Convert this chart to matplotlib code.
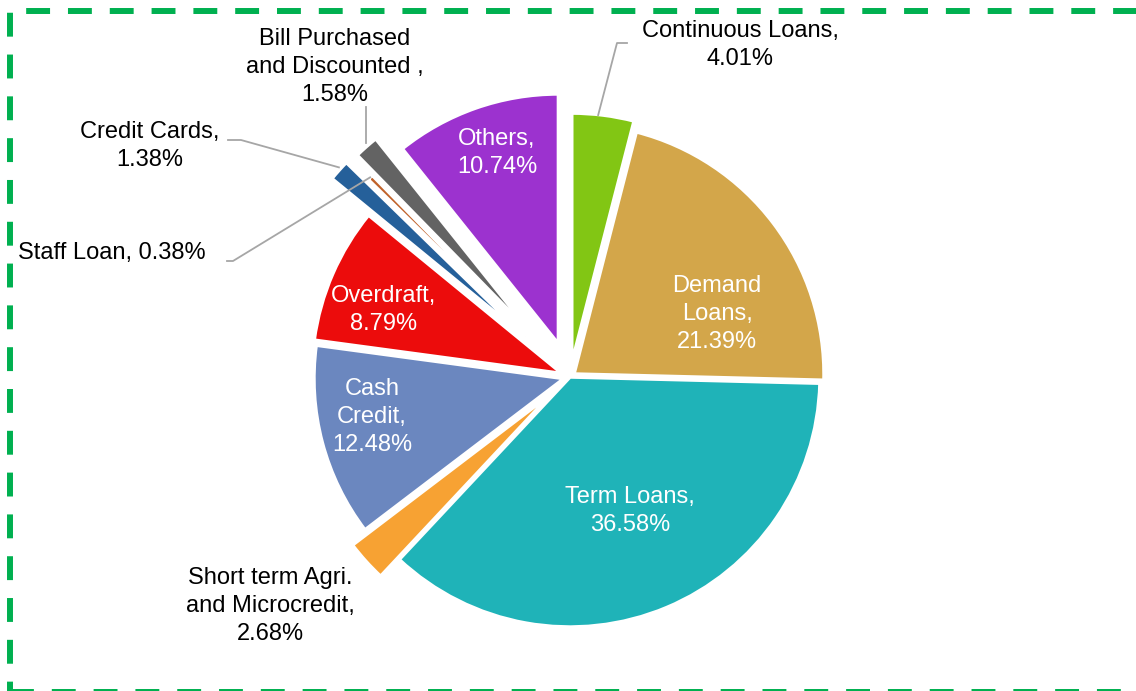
import matplotlib
matplotlib.use("Agg")
import matplotlib.pyplot as plt
from matplotlib.patches import Rectangle
import numpy as np

plt.rcParams["font.family"] = ["Liberation Sans", "DejaVu Sans"]

# loan portfolio shares (%), clockwise from 12 o'clock
names = ["Continuous Loans", "Demand\nLoans", "Term Loans", "Short term Agri.\nand Microcredit",
         "Cash\nCredit", "Overdraft", "Credit Cards", "Staff Loan", "Bill Purchased\nand Discounted ", "Others"]
shares = [4.01, 21.39, 36.58, 2.68, 12.48, 8.79, 1.38, 0.38, 1.58, 10.74]
colors = ["#82c614", "#d3a64a", "#1fb3b8", "#f7a233", "#6b87bf", "#ec0c0c",
          "#25609a", "#c0622a", "#636363", "#9c32cf"]
explode = [0.056, 0.02, 0.0, 0.1, 0.025, 0.035, 0.24, 0.13, 0.23, 0.14]

W, H = 1136, 691
R = 250
def P(x, y):
    # pixel (top-left origin) -> data coords
    return (x, H - y)

fig = plt.figure(figsize=(W / 100, H / 100), dpi=100)
ax = fig.add_axes([0, 0, 1, 1])

# explode offsets are in data units, so scale by radius
wedges, _ = ax.pie(shares, explode=[e * R for e in explode], colors=colors, startangle=90,
                   counterclock=False, center=P(570, 377), radius=R,
                   wedgeprops=dict(edgecolor="white", linewidth=2.5))

ax.set_xlim(0, W)
ax.set_ylim(0, H)
ax.set_aspect("equal")
ax.axis("off")

fs = 17
ls = 1.34
def lab(i):
    return f"{names[i]},\n{shares[i]:.2f}%"

# labels inside the slices (white)
inside = {1: (717, 314), 2: (630, 511), 4: (372, 417), 5: (384, 310), 9: (497, 153)}
for i, (x, y) in inside.items():
    ax.text(*P(x, y), lab(i), color="white", fontsize=fs, ha="center", va="center", linespacing=ls)

def tip(i):
    w = wedges[i]
    a = np.deg2rad((w.theta1 + w.theta2) / 2)
    return w.center[0] + w.r * np.cos(a), w.center[1] + w.r * np.sin(a)

lc = "#a6a6a6"
# Continuous Loans
x0, y0 = tip(0)
ax.plot([x0 - 5, 617, 627], [y0, P(0, 43)[1], P(0, 43)[1]], color=lc, lw=1.3)
ax.text(*P(740, 45), lab(0), fontsize=fs, ha="center", va="center", linespacing=ls)
# Bill Purchased
x0, y0 = tip(8)
ax.plot([x0, x0], [y0 + 4, P(0, 107)[1]], color=lc, lw=1.3)
ax.text(*P(335, 67), lab(8), fontsize=fs, ha="center", va="center", linespacing=ls)
# Credit Cards
x0, y0 = tip(6)
ax.plot([x0, 241, 228], [y0 + 3, P(0, 140)[1], P(0, 140)[1]], color=lc, lw=1.3)
ax.text(*P(150, 146), lab(6), fontsize=fs, ha="center", va="center", linespacing=ls)
# Staff Loan
x0, y0 = tip(7)
ax.plot([x0, 233, 227], [y0, P(0, 261)[1], P(0, 261)[1]], color=lc, lw=1.3)
ax.text(*P(18, 253), f"{names[7]}, {shares[7]:.2f}%", fontsize=fs, ha="left", va="center")
# Short term Agri.
ax.text(*P(270, 606), lab(3), fontsize=fs, ha="center", va="center", linespacing=ls)

# dashed green frame
ax.add_patch(Rectangle(P(10, 692), 1140, 681, fill=False, edgecolor="#00b050",
                       linewidth=4.3, linestyle=(0, (4, 3)), clip_on=False))

fig.savefig("out.png", dpi=100)
